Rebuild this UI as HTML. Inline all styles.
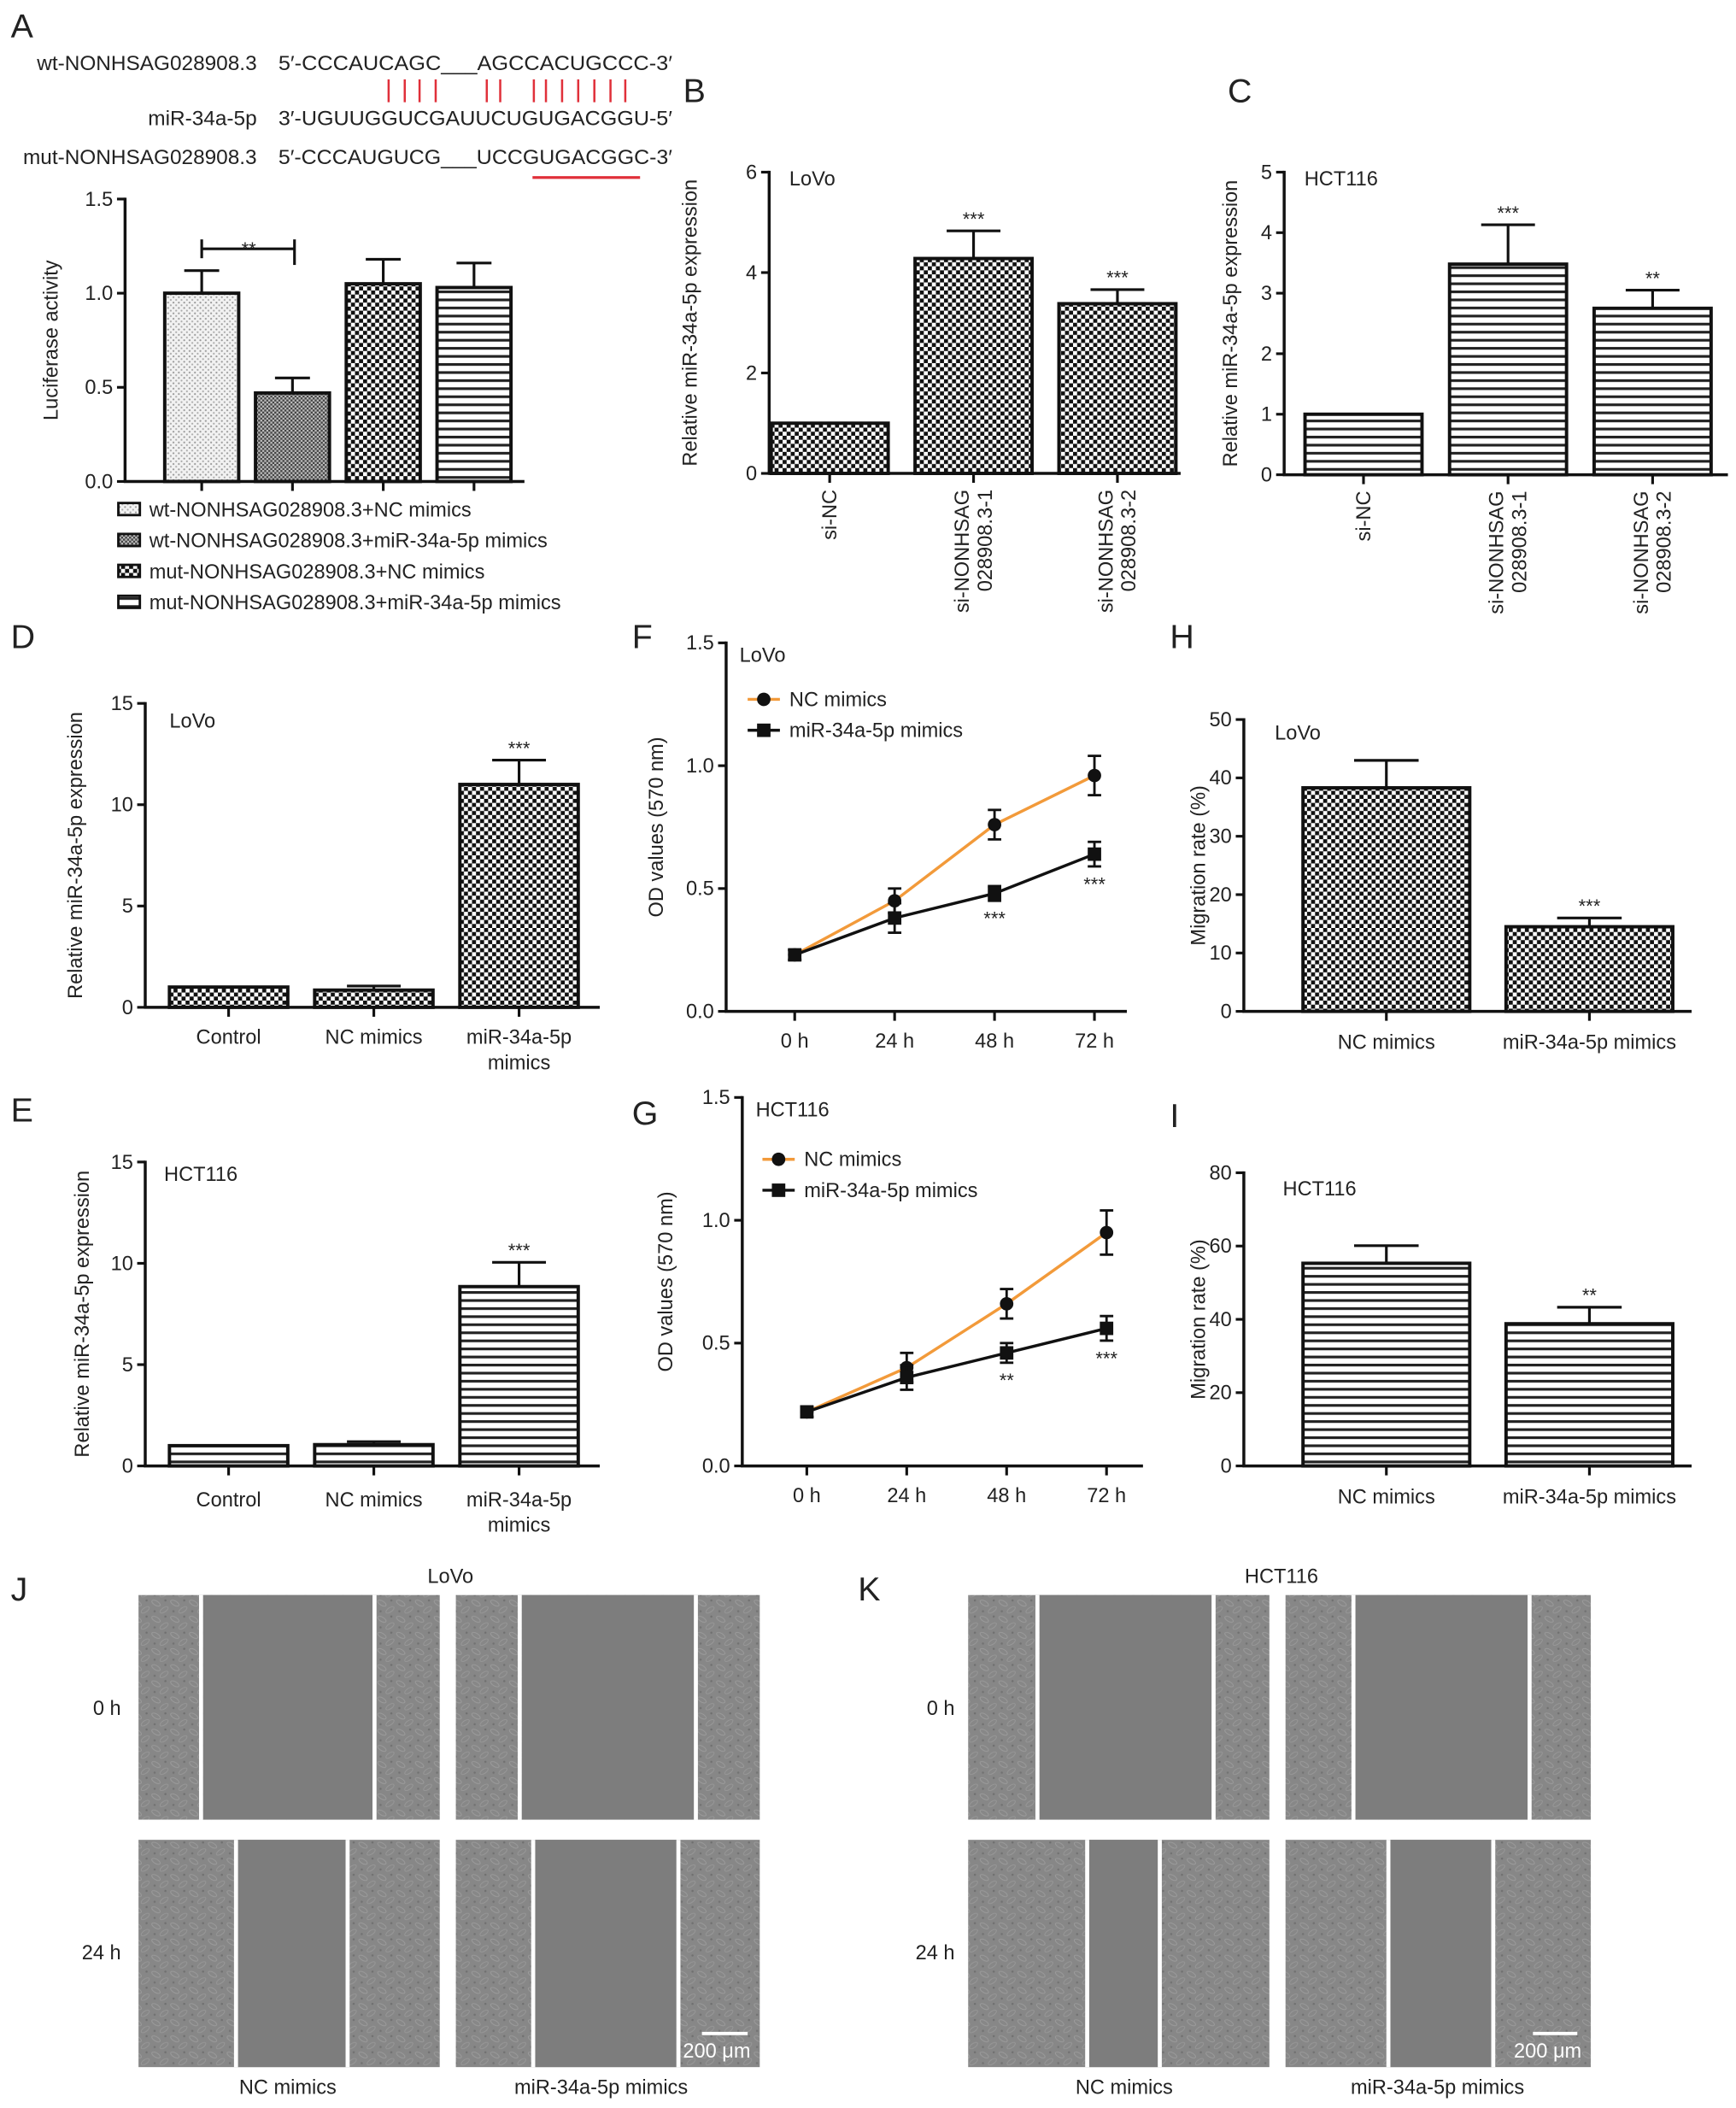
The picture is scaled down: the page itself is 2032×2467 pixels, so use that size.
<!DOCTYPE html>
<html><head><meta charset="utf-8">
<style>
html,body{margin:0;padding:0;background:#fff;}
svg{display:block;}
text{font-family:"Liberation Sans",Arial,sans-serif;fill:#222;}
</style></head>
<body>
<svg id="fig" xmlns="http://www.w3.org/2000/svg" width="2032" height="2467" viewBox="0 0 1291 1567.4">
<defs>
<pattern id="dots" width="4" height="4" patternUnits="userSpaceOnUse"><rect width="4" height="4" fill="#f2f2f2"/><circle cx="1" cy="1" r="0.7" fill="#999"/><circle cx="3" cy="3" r="0.7" fill="#aaa"/></pattern>
<pattern id="fine" width="3" height="3" patternUnits="userSpaceOnUse"><rect width="3" height="3" fill="#bbb"/><rect width="1.5" height="1.5" fill="#444"/><rect x="1.5" y="1.5" width="1.5" height="1.5" fill="#444"/></pattern>
<pattern id="check" width="6" height="6" patternUnits="userSpaceOnUse"><rect width="6" height="6" fill="#fff"/><rect width="3" height="3" fill="#111"/><rect x="3" y="3" width="3" height="3" fill="#111"/></pattern>
<pattern id="stripe" width="6" height="6" patternUnits="userSpaceOnUse"><rect width="6" height="6" fill="#fff"/><rect y="0" width="6" height="2" fill="#222"/></pattern>
<pattern id="cells" width="14" height="12" patternUnits="userSpaceOnUse"><rect width="14" height="12" fill="#878787"/><ellipse cx="4" cy="4" rx="3.5" ry="1.6" fill="none" stroke="#9c9c9c" stroke-width="0.6" transform="rotate(30 4 4)"/><ellipse cx="10" cy="9" rx="3.5" ry="1.6" fill="none" stroke="#989898" stroke-width="0.6" transform="rotate(-35 10 9)"/><circle cx="11" cy="2" r="0.8" fill="#707070"/><circle cx="3" cy="10" r="0.8" fill="#727272"/></pattern>
</defs>
<g id="root"></g>
</svg>
<script>
// ---------- Panel A data ----------
const aCats = ['wt+NC', 'wt+miR', 'mut+NC', 'mut+miR'];
const aVals = [1.0, 0.47, 1.05, 1.03];
const aErrs = [0.12, 0.08, 0.13, 0.13];
const aTicks = [0, 0.5, 1.0, 1.5];
const aTickLabels = ['0.0', '0.5', '1.0', '1.5'];
// ---------- Panel B ----------
const bCats = ['si-NC', 'si-NONHSAG 028908.3-1', 'si-NONHSAG 028908.3-2'];
const bVals = [1.0, 4.28, 3.38];
const bErrs = [0, 0.55, 0.28];
const bTicks = [0, 2, 4, 6];
// ---------- Panel C ----------
const cVals = [1.0, 3.48, 2.75];
const cErrs = [0, 0.65, 0.3];
const cTicks = [0, 1, 2, 3, 4, 5];
// ---------- Panel D ----------
const dCats = ['Control', 'NC mimics', 'miR-34a-5p mimics'];
const dVals = [1.0, 0.85, 11.0];
const dErrs = [0, 0.2, 1.2];
const deTicks = [0, 5, 10, 15];
// ---------- Panel E ----------
const eVals = [1.0, 1.05, 8.85];
const eErrs = [0, 0.15, 1.2];
// ---------- Panel F ----------
const times = ['0 h', '24 h', '48 h', '72 h'];
const fNC = [0.23, 0.45, 0.76, 0.96];
const fNCerr = [0.02, 0.05, 0.06, 0.08];
const fMiR = [0.23, 0.38, 0.48, 0.64];
const fMiRerr = [0.02, 0.06, 0.03, 0.05];
const fStars = ['', '', '***', '***'];
// ---------- Panel G ----------
const gNC = [0.22, 0.40, 0.66, 0.95];
const gNCerr = [0.02, 0.06, 0.06, 0.09];
const gMiR = [0.22, 0.36, 0.46, 0.56];
const gMiRerr = [0.02, 0.05, 0.04, 0.05];
const gStars = ['', '', '**', '***'];
const odTicks = [0, 0.5, 1.0, 1.5];
const odTickLabels = ['0.0', '0.5', '1.0', '1.5'];
// ---------- Panel H / I ----------
const hiCats = ['NC mimics', 'miR-34a-5p mimics'];
const hVals = [38.3, 14.5];
const hErrs = [4.7, 1.5];
const hTicks = [0, 10, 20, 30, 40, 50];
const iVals = [55.3, 38.8];
const iErrs = [4.8, 4.5];
const iTicks = [0, 20, 40, 60, 80];

const FS = 15;
const NS = 'http://www.w3.org/2000/svg';
const root = document.getElementById('root');
function mk(tag, attrs, parent) {
  const e = document.createElementNS(NS, tag);
  for (const k in attrs) e.setAttribute(k, attrs[k]);
  (parent || root).appendChild(e);
  return e;
}
function txt(s, x, y, size, anchor, parent, extra) {
  const t = mk('text', Object.assign({x: x, y: y, 'font-size': size, 'text-anchor': anchor || 'start'}, extra || {}), parent);
  t.textContent = s;
  return t;
}
function panelLetter(s, x, y) {
  const t = txt(s, x, y, 25, 'start');
  
  
}

function yAxis(g, ax, y0, yTop, max, ticks, labels, title, titleX) {
  const ys = v => y0 - v / max * (y0 - yTop);
  const line = mk('line', {x1: ax, y1: yTop - 1, x2: ax, y2: y0, stroke: '#111', 'stroke-width': 2.2}, g);
  
  
  ticks.forEach((t, i) => {
    mk('line', {x1: ax - 6, y1: ys(t), x2: ax, y2: ys(t), stroke: '#111', 'stroke-width': 2}, g);
    const l = txt(labels ? labels[i] : String(t), ax - 9, ys(t) + 5, FS, 'end', g);
    
    
  });
  const cy = (y0 + yTop) / 2;
  const tt = txt(title, titleX, cy, FS, 'middle', g, {transform: 'rotate(-90 ' + titleX + ' ' + cy + ')'});
  
  
  return ys;
}

function barChart(cfg) {
  const g = mk('g', {});
  
  
  const ys = yAxis(g, cfg.ax, cfg.y0, cfg.yTop, cfg.max, cfg.ticks, cfg.tickLabels, cfg.title, cfg.titleX);
  const xl = mk('line', {x1: cfg.ax - 1, y1: cfg.y0, x2: cfg.xEnd, y2: cfg.y0, stroke: '#111', 'stroke-width': 2.2}, g);
  
  
  cfg.vals.forEach((v, i) => {
    const cx = cfg.c0 + i * cfg.step;
    const fill = Array.isArray(cfg.fill) ? cfg.fill[i] : cfg.fill;
    const top = ys(v);
    const e = cfg.errs[i];
    if (e > 0) {
      const eb = mk('line', {x1: cx, y1: ys(v + e), x2: cx, y2: top, stroke: '#111', 'stroke-width': 2}, g);
      
      
      mk('line', {x1: cx - cfg.capW, y1: ys(v + e), x2: cx + cfg.capW, y2: ys(v + e), stroke: '#111', 'stroke-width': 2}, g);
    }
    const r = mk('rect', {x: cx - cfg.bw / 2, y: top, width: cfg.bw, height: cfg.y0 - top, fill: fill, stroke: '#111', 'stroke-width': 2.5}, g);
    
    
    mk('line', {x1: cx, y1: cfg.y0, x2: cx, y2: cfg.y0 + 7, stroke: '#111', 'stroke-width': 2}, g);
    if (cfg.stars && cfg.stars[i]) {
      const s = txt(cfg.stars[i], cx, ys(v + e) - 4, 14, 'middle', g);
      
      
    }
    if (cfg.labels) {
      const lab = cfg.labels[i];
      if (cfg.rotated) {
        const parts = lab.split(' ');
        parts.forEach((p, k) => {
          const xx = cx - (parts.length - 1) * 8.5 + k * 17 + 5;
          const t = txt(p, xx, cfg.y0 + 12, FS, 'end', g, {transform: 'rotate(-90 ' + xx + ' ' + (cfg.y0 + 12) + ')'});
          
          
        });
      } else {
        const parts = cfg.labelLines ? cfg.labelLines[i] : [lab];
        parts.forEach((p, k) => {
          const t = txt(p, cx, cfg.labelY + k * 19, FS, 'middle', g);
          
          
        });
      }
    }
  });
  if (cfg.cell) {
    const c = txt(cfg.cell, cfg.cellX, cfg.cellY, FS, 'start', g);
    
    
  }
  return {g: g, ys: ys};
}

// ---------- Panel A ----------
panelLetter('A', 8, 28);
const seqG = mk('g', {});


[['wt-NONHSAG028908.3', "5′-CCCAUCAGC___AGCCACUGCCC-3′", 52],
 ['miR-34a-5p', "3′-UGUUGGUCGAUUCUGUGACGGU-5′", 93],
 ['mut-NONHSAG028908.3', "5′-CCCAUGUCG___UCCGUGACGGC-3′", 122]].forEach(r => {
  const a = txt(r[0], 191, r[2], 15.5, 'end', seqG);
  
  
  const b = txt(r[1], 207, r[2], 15.5, 'start', seqG, {textLength: 293, lengthAdjust: 'spacingAndGlyphs'});
  
  
});
[289, 301, 312, 324, 362, 372, 397, 406, 418, 430, 442, 454, 465].forEach(x => {
  mk('line', {x1: x, y1: 59, x2: x, y2: 76, stroke: '#e0303a', 'stroke-width': 1.6}, seqG);
});
const ul = mk('line', {x1: 396, y1: 132, x2: 476, y2: 132, stroke: '#e0303a', 'stroke-width': 2}, seqG);



const A = barChart({name: 'chart-a-luciferase', ax: 93, y0: 358, yTop: 148, max: 1.5, ticks: aTicks, tickLabels: aTickLabels,
  title: 'Luciferase activity', titleX: 43, xEnd: 390, vals: aVals, errs: aErrs, c0: 150, step: 67.5, bw: 55, capW: 13,
  fill: ['url(#dots)', 'url(#fine)', 'url(#check)', 'url(#stripe)']});
mk('line', {x1: 150, y1: 185, x2: 219, y2: 185, stroke: '#111', 'stroke-width': 2}, A.g);
mk('line', {x1: 150, y1: 178, x2: 150, y2: 192, stroke: '#111', 'stroke-width': 2}, A.g);
mk('line', {x1: 219, y1: 178, x2: 219, y2: 197, stroke: '#111', 'stroke-width': 2}, A.g);
const sa = txt('**', 185, 190, 14, 'middle', A.g);


const legA = ['wt-NONHSAG028908.3+NC mimics', 'wt-NONHSAG028908.3+miR-34a-5p mimics', 'mut-NONHSAG028908.3+NC mimics', 'mut-NONHSAG028908.3+miR-34a-5p mimics'];
const aFills = ['url(#dots)', 'url(#fine)', 'url(#check)', 'url(#stripe)'];
legA.forEach((s, i) => {
  const y = 379 + i * 23;
  const lg = mk('g', {});
  
  
  mk('rect', {x: 88, y: y - 5, width: 16, height: 9, fill: aFills[i], stroke: '#111', 'stroke-width': 1.8}, lg);
  txt(s, 111, y + 5, FS, 'start', lg);
});

// ---------- Panel B ----------
panelLetter('B', 508, 76);
barChart({name: 'chart-b-lovo', ax: 572, y0: 352, yTop: 128, max: 6, ticks: bTicks, title: 'Relative miR-34a-5p expression', titleX: 518,
  xEnd: 878, vals: bVals, errs: bErrs, c0: 617, step: 107, bw: 87, capW: 20, fill: 'url(#check)', stars: ['', '***', '***'],
  labels: bCats, rotated: true, cell: 'LoVo', cellX: 587, cellY: 138});
// ---------- Panel C ----------
panelLetter('C', 913, 76);
barChart({name: 'chart-c-hct116', ax: 955, y0: 353, yTop: 128, max: 5, ticks: cTicks, title: 'Relative miR-34a-5p expression', titleX: 920,
  xEnd: 1285, vals: cVals, errs: cErrs, c0: 1014, step: 107.5, bw: 87, capW: 20, fill: 'url(#stripe)', stars: ['', '***', '**'],
  labels: bCats, rotated: true, cell: 'HCT116', cellX: 970, cellY: 138});
// ---------- Panel D ----------
panelLetter('D', 8, 482);
barChart({name: 'chart-d-lovo', ax: 108, y0: 749, yTop: 523, max: 15, ticks: deTicks, title: 'Relative miR-34a-5p expression', titleX: 61,
  xEnd: 446, vals: dVals, errs: dErrs, c0: 170, step: 108, bw: 88, capW: 20, fill: 'url(#check)', stars: ['', '', '***'],
  labels: dCats, labelLines: [['Control'], ['NC mimics'], ['miR-34a-5p', 'mimics']], labelY: 776, cell: 'LoVo', cellX: 126, cellY: 541});
// ---------- Panel E ----------
panelLetter('E', 8, 834);
barChart({name: 'chart-e-hct116', ax: 108, y0: 1090, yTop: 864, max: 15, ticks: deTicks, title: 'Relative miR-34a-5p expression', titleX: 66,
  xEnd: 446, vals: eVals, errs: eErrs, c0: 170, step: 108, bw: 88, capW: 20, fill: 'url(#stripe)', stars: ['', '', '***'],
  labels: dCats, labelLines: [['Control'], ['NC mimics'], ['miR-34a-5p', 'mimics']], labelY: 1120, cell: 'HCT116', cellX: 122, cellY: 878});
// ---------- Panel H ----------
panelLetter('H', 870, 482);
barChart({name: 'chart-h-lovo', ax: 925, y0: 752, yTop: 535, max: 50, ticks: hTicks, title: 'Migration rate (%)', titleX: 896,
  xEnd: 1258, vals: hVals, errs: hErrs, c0: 1031, step: 151, bw: 124, capW: 24, fill: 'url(#check)', stars: ['', '***'],
  labels: hiCats, labelY: 780, cell: 'LoVo', cellX: 948, cellY: 550});
// ---------- Panel I ----------
panelLetter('I', 870, 838);
barChart({name: 'chart-i-hct116', ax: 925, y0: 1090, yTop: 872, max: 80, ticks: iTicks, title: 'Migration rate (%)', titleX: 896,
  xEnd: 1258, vals: iVals, errs: iErrs, c0: 1031, step: 151, bw: 124, capW: 24, fill: 'url(#stripe)', stars: ['', '**'],
  labels: hiCats, labelY: 1118, cell: 'HCT116', cellX: 954, cellY: 889});

// ---------- Line charts ----------
function lineChart(cfg) {
  const g = mk('g', {});
  
  
  const ys = yAxis(g, cfg.ax, cfg.y0, cfg.yTop, 1.5, odTicks, odTickLabels, 'OD values (570 nm)', cfg.titleX);
  const xl = mk('line', {x1: cfg.ax - 1, y1: cfg.y0, x2: cfg.xEnd, y2: cfg.y0, stroke: '#111', 'stroke-width': 2.2}, g);
  
  
  const xs = i => cfg.x0 + i * cfg.step;
  times.forEach((t, i) => {
    mk('line', {x1: xs(i), y1: cfg.y0, x2: xs(i), y2: cfg.y0 + 7, stroke: '#111', 'stroke-width': 2}, g);
    const l = txt(t, xs(i), cfg.y0 + 27, FS, 'middle', g);
    
    
  });
  const series = [[cfg.nc, cfg.ncErr, '#f29a3a', 'circle', 'NC mimics'], [cfg.mi, cfg.miErr, '#111', 'square', 'miR-34a-5p mimics']];
  series.forEach((s, si) => {
    const pts = s[0].map((v, i) => xs(i) + ',' + ys(v)).join(' ');
    const pl = mk('polyline', {points: pts, fill: 'none', stroke: s[2], 'stroke-width': 2.2}, g);
    
    
    s[0].forEach((v, i) => {
      const x = xs(i), e = s[1][i];
      mk('line', {x1: x, y1: ys(v + e), x2: x, y2: ys(v - e), stroke: '#111', 'stroke-width': 1.8}, g);
      mk('line', {x1: x - 5, y1: ys(v + e), x2: x + 5, y2: ys(v + e), stroke: '#111', 'stroke-width': 1.8}, g);
      mk('line', {x1: x - 5, y1: ys(v - e), x2: x + 5, y2: ys(v - e), stroke: '#111', 'stroke-width': 1.8}, g);
      let m;
      if (s[3] === 'circle') m = mk('circle', {cx: x, cy: ys(v), r: 5, fill: '#111'}, g);
      else m = mk('rect', {x: x - 5, y: ys(v) - 5, width: 10, height: 10, fill: '#111'}, g);
      
      
    });
    const ly = cfg.legY + si * 23;
    const lg = mk('g', {}, g);
    
    
    mk('line', {x1: cfg.legX, y1: ly, x2: cfg.legX + 24, y2: ly, stroke: s[2], 'stroke-width': 2.2}, lg);
    if (s[3] === 'circle') mk('circle', {cx: cfg.legX + 12, cy: ly, r: 5, fill: '#111'}, lg);
    else mk('rect', {x: cfg.legX + 7, y: ly - 5, width: 10, height: 10, fill: '#111'}, lg);
    txt(s[4], cfg.legX + 31, ly + 5, FS, 'start', lg);
  });
  cfg.stars.forEach((st, i) => {
    if (!st) return;
    const t = txt(st, xs(i), ys(cfg.mi[i] - cfg.miErr[i]) + 18, 14, 'middle', g);
    
    
  });
  const c = txt(cfg.cell, cfg.ax + 10, cfg.yTop + 14, FS, 'start', g);
  
  
}
panelLetter('F', 470, 482);
lineChart({name: 'chart-f-lovo', ax: 540, y0: 752, yTop: 478, titleX: 493, xEnd: 838, x0: 591, step: 74.3,
  nc: fNC, ncErr: fNCerr, mi: fMiR, miErr: fMiRerr, stars: fStars, legX: 556, legY: 520, cell: 'LoVo'});
panelLetter('G', 470, 836);
lineChart({name: 'chart-g-hct116', ax: 552, y0: 1090, yTop: 816, titleX: 500, xEnd: 850, x0: 600, step: 74.3,
  nc: gNC, ncErr: gNCerr, mi: gMiR, miErr: gMiRerr, stars: gStars, legX: 567, legY: 862, cell: 'HCT116'});

// ---------- Scratch images J / K ----------
function scratch(name, x, y, w, h, g1, g2) {
  const g = mk('g', {});
  
  
  mk('rect', {x: x, y: y, width: w, height: h, fill: 'url(#cells)'}, g);
  mk('rect', {x: g1, y: y, width: g2 - g1, height: h, fill: '#7d7d7d'}, g);
  mk('rect', {x: g1 - 3, y: y, width: 3, height: h, fill: '#fff'}, g);
  mk('rect', {x: g2, y: y, width: 3, height: h, fill: '#fff'}, g);
}
panelLetter('J', 8, 1190);
panelLetter('K', 638, 1190);
[['LoVo', 335], ['HCT116', 953]].forEach(p => {
  const t = txt(p[0], p[1], 1177, FS, 'middle');
  
  
});
scratch('image-lovo-nc-0h', 103, 1186, 224, 167, 151, 277);
scratch('image-lovo-mir-0h', 339, 1186, 226, 167, 388, 516);
scratch('image-lovo-nc-24h', 103, 1368, 224, 169, 177, 257);
scratch('image-lovo-mir-24h', 339, 1368, 226, 169, 398, 503);
scratch('image-hct-nc-0h', 720, 1186, 224, 167, 773, 901);
scratch('image-hct-mir-0h', 956, 1186, 227, 167, 1008, 1136);
scratch('image-hct-nc-24h', 720, 1368, 224, 169, 810, 861);
scratch('image-hct-mir-24h', 956, 1368, 227, 169, 1034, 1109);
[[90, '0 h', 1275], [90, '24 h', 1457], [710, '0 h', 1275], [710, '24 h', 1457]].forEach(r => {
  const t = txt(r[1], r[0], r[2], FS, 'end');
  
  
});
[[214, 'NC mimics'], [447, 'miR-34a-5p mimics'], [836, 'NC mimics'], [1069, 'miR-34a-5p mimics']].forEach(r => {
  const t = txt(r[1], r[0], 1557, FS, 'middle');
  
  
});
[[522, 556, 533], [1140, 1173, 1151]].forEach(r => {
  const sb = mk('line', {x1: r[0], y1: 1512, x2: r[1], y2: 1512, stroke: '#fff', 'stroke-width': 2.5});
  
  
  const t = txt('200 μm', r[2], 1530, FS, 'middle', root, {style: 'fill:#fff'});
  
  
});
</script>
</body></html>
